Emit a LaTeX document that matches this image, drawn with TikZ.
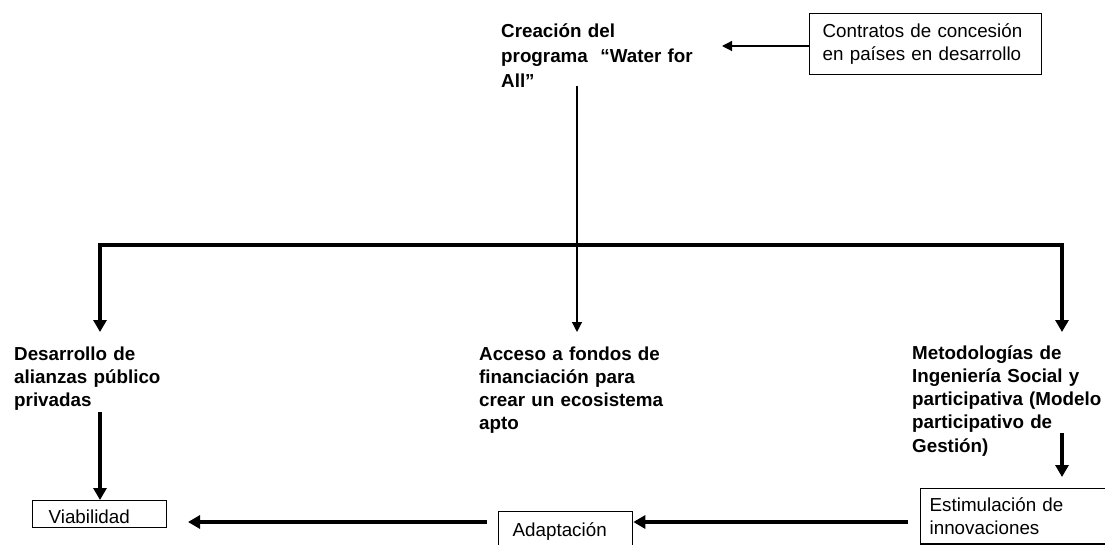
\documentclass[tikz,border=0pt]{standalone}
\usepackage{fontspec}
\setmainfont{Liberation Sans}
\usetikzlibrary{arrows.meta}
\begin{document}
\begin{tikzpicture}[x=1pt,y=-1pt,
  txt/.style={font=\fontsize{18.8}{23.3}\selectfont},
  label/.style={txt, font=\fontsize{18.8}{23.3}\selectfont\bfseries, align=left,
    text width=230pt, inner sep=0pt, anchor=base west},
  box/.style={txt, draw, line width=1.3pt, align=left, inner ysep=0pt},
  thin arrow/.style={line width=1.2pt, -{Triangle[length=10pt,width=10pt]}},
  thick arrow/.style={line width=4pt, -{Triangle[length=12pt,width=13pt]}},
  bus/.style={line width=4pt, line join=miter,
    {Triangle[length=12pt,width=13pt]}-{Triangle[length=12pt,width=13pt]}}]
\useasboundingbox (0,0) rectangle (1105,545);
\clip (0,0) rectangle (1105,545);

% --- free-standing bold statements
\node[label, font=\fontsize{18.8}{25}\selectfont\bfseries] (creacion) at (501,38)
  {Creación del\\programa~~“Water for\\All”};
\node[label] (desarrollo) at (14,360)
  {Desarrollo de\\alianzas público\\privadas};
\node[label] (acceso) at (479,360)
  {Acceso a fondos de\\financiación para\\crear un ecosistema\\apto};
\node[label] (metodo) at (912,359)
  {Metodologías de\\Ingeniería Social y\\participativa (Modelo\\participativo de\\Gestión)};

% --- framed boxes
\node[box, anchor=north west, minimum width=232pt, minimum height=61pt,
      text width=206pt, inner xsep=13pt] (contratos) at (809,13)
  {Contratos de concesión\\en países en desarrollo};
\node[box, anchor=north west, text width=102pt, inner xsep=16pt,
      text height=23pt, text depth=4pt] (viab) at (32,500) {Viabilidad};
\node[box, anchor=north west, text width=106pt, inner xsep=14pt,
      text height=25pt, text depth=15pt] (adapt) at (498,511) {Adaptación};
\node[box, anchor=north west, text width=200pt, inner xsep=9pt,
      inner ysep=9pt] (estim) at (920,488)
  {Estimulación de\\innovaciones};

% --- connector end points
\coordinate (creTip)   at (722,46);
\coordinate (stemTop)  at (577,86);
\coordinate (stemTip)  at (577,332);
\coordinate (busL)     at (100,245);
\coordinate (busR)     at (1062,245);
\coordinate (desTip)   at (100,332);
\coordinate (metTip)   at (1062,332);
\coordinate (desOut)   at (100,412);
\coordinate (metOut)   at (1062,433);
\coordinate (metIn)    at (1062,477);
\coordinate (estOut)   at (908,522);
\coordinate (adaOut)   at (487,522);
\coordinate (viaIn)    at (188,522);

% --- connectors
\draw[thin arrow] (contratos.west |- creTip) -- (creTip);
\draw[thin arrow] (stemTop) -- (stemTip);
\draw[bus] (desTip) -- (busL) -- (busR) -- (metTip);
\draw[thick arrow] (desOut) -- (desOut |- viab.north);
\draw[thick arrow] (metOut) -- (metIn);
\draw[thick arrow] (estOut) -- (estOut -| adapt.east);
\draw[thick arrow] (adaOut) -- (viaIn);
\end{tikzpicture}
\end{document}
